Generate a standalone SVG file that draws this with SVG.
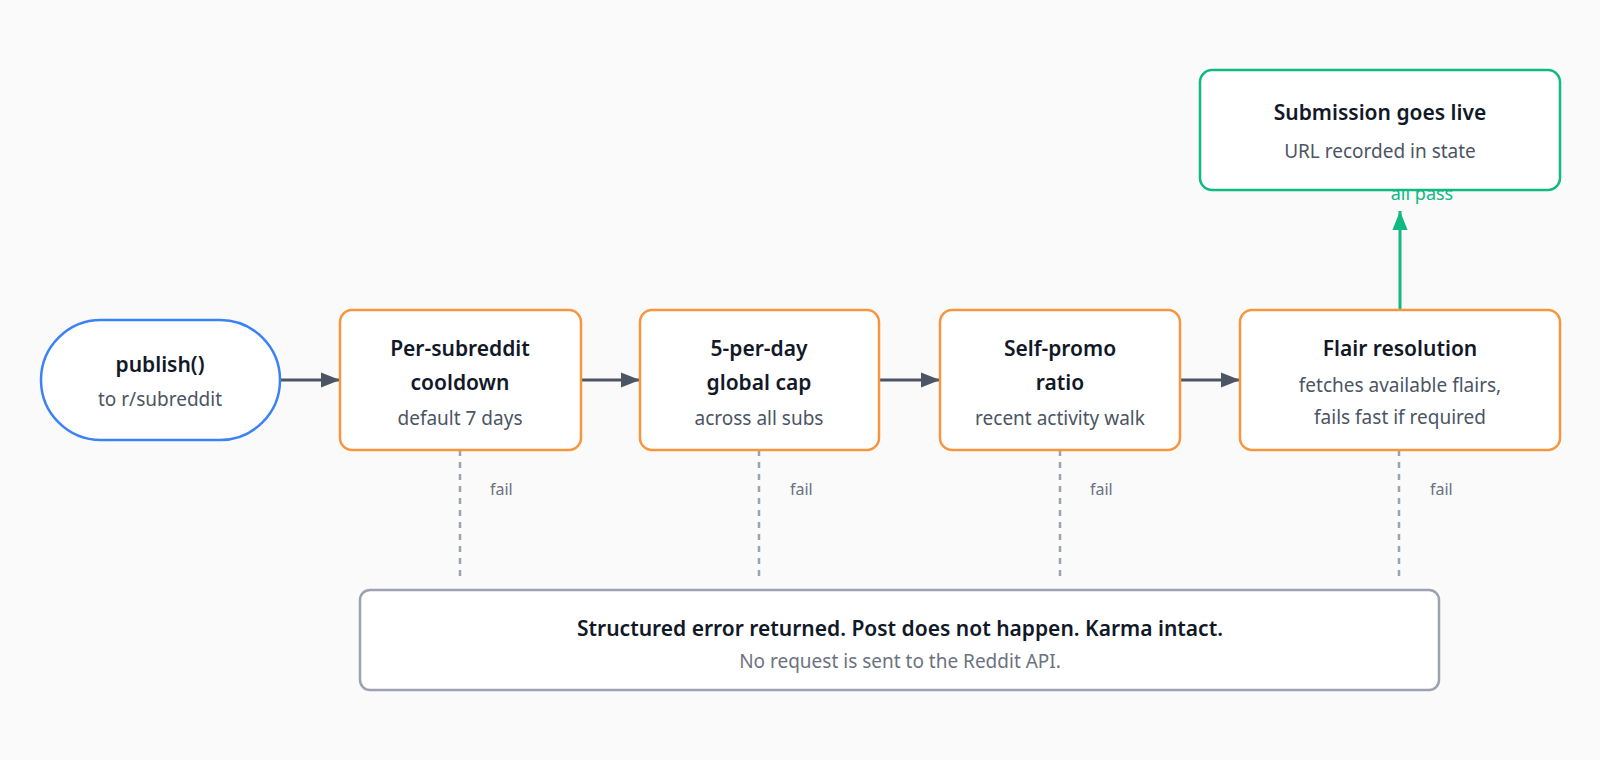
<svg xmlns="http://www.w3.org/2000/svg" width="1600" height="760" viewBox="0 0 1600 760">
<style>
.t{font-family:"Noto Sans","Open Sans",sans-serif;font-size:21px;font-weight:600;fill:#111827;text-anchor:middle}
.s{font-family:"Noto Sans","Open Sans",sans-serif;font-size:19px;fill:#4b5563;text-anchor:middle}
.f{font-family:"Noto Sans","Open Sans",sans-serif;font-size:16px;fill:#6b7280}
.o{fill:#fff;stroke:#f7963f;stroke-width:2.5}
.e{stroke:#4b5563;stroke-width:3;fill:none}
.d{stroke:#9ca3af;stroke-width:2.5;stroke-dasharray:6 6;fill:none}
</style>
<defs>
<marker id="a" viewBox="0 0 10 10" refX="10" refY="5" markerWidth="19" markerHeight="19" markerUnits="userSpaceOnUse" orient="auto"><path d="M0 1L10 5L0 9z" fill="#4b5563"/></marker>
<marker id="g" viewBox="0 0 10 10" refX="10" refY="5" markerWidth="19" markerHeight="19" markerUnits="userSpaceOnUse" orient="auto"><path d="M0 1L10 5L0 9z" fill="#10b981"/></marker>
</defs>
<rect width="1600" height="760" fill="#fafafa"/>
<g id="connectors">
<path class="e" d="M280 380H340" marker-end="url(#a)"/>
<path class="e" d="M581 380H640" marker-end="url(#a)"/>
<path class="e" d="M879 380H940" marker-end="url(#a)"/>
<path class="e" d="M1180 380H1240" marker-end="url(#a)"/>
<path d="M1400 309V211" stroke="#10b981" stroke-width="3" fill="none" marker-end="url(#g)"/>
<path class="d" d="M460 450V580M759 450V580M1060 450V580M1399 450V580"/>
<text class="f" x="490" y="495">fail</text>
<text class="f" x="790" y="495">fail</text>
<text class="f" x="1090" y="495">fail</text>
<text class="f" x="1430" y="495">fail</text>
<text x="1422" y="200" font-family="Noto Sans,Open Sans,sans-serif" font-size="18" fill="#10b981" text-anchor="middle">all pass</text>
</g>
<g id="publish"><rect x="41" y="320" width="239" height="120" rx="60" fill="#fff" stroke="#3b82f6" stroke-width="2.5"/>
<text class="t" x="160" y="372">publish()</text><text class="s" x="160" y="406">to r/subreddit</text></g>
<g id="cooldown"><rect class="o" x="340" y="310" width="241" height="140" rx="12"/>
<text class="t" x="460" y="356">Per-subreddit</text><text class="t" x="460" y="390">cooldown</text><text class="s" x="460" y="425">default 7 days</text></g>
<g id="cap"><rect class="o" x="640" y="310" width="239" height="140" rx="12"/>
<text class="t" x="759" y="356">5-per-day</text><text class="t" x="759" y="390">global cap</text><text class="s" x="759" y="425">across all subs</text></g>
<g id="promo"><rect class="o" x="940" y="310" width="240" height="140" rx="12"/>
<text class="t" x="1060" y="356">Self-promo</text><text class="t" x="1060" y="390">ratio</text><text class="s" x="1060" y="425">recent activity walk</text></g>
<g id="flair"><rect class="o" x="1240" y="310" width="320" height="140" rx="12"/>
<text class="t" x="1400" y="356">Flair resolution</text><text class="s" x="1400" y="392">fetches available flairs,</text><text class="s" x="1400" y="424">fails fast if required</text></g>
<g id="live"><rect x="1200" y="70" width="360" height="120" rx="12" fill="#fff" stroke="#10b981" stroke-width="2.5"/>
<text class="t" x="1380" y="120">Submission goes live</text><text class="s" x="1380" y="158">URL recorded in state</text></g>
<g id="error"><rect x="360" y="590" width="1079" height="100" rx="10" fill="#fff" stroke="#9ca3af" stroke-width="2.5"/>
<text class="t" x="900" y="636">Structured error returned. Post does not happen. Karma intact.</text><text class="s" x="900" y="668" style="fill:#6b7280">No request is sent to the Reddit API.</text></g>
</svg>
